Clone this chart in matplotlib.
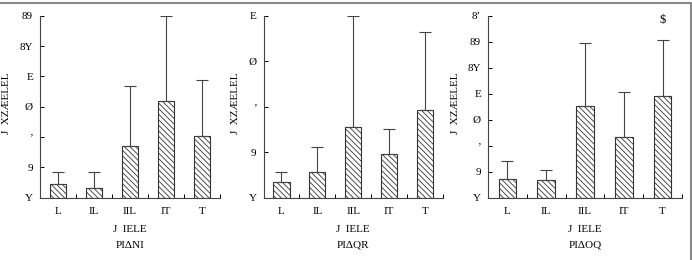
import numpy as np
import matplotlib.pyplot as plt
from matplotlib.lines import Line2D

plt.rcParams['font.family'] = ['Liberation Serif', 'DejaVu Serif']
plt.rcParams['hatch.linewidth'] = 0.6

# 数据
groups = ['L', 'IL', 'IIL', 'IT', 'T']
means_a = [0.88, 0.62, 3.43, 6.35, 4.05]
upper_a = [1.71, 1.71, 7.34, 12.0, 7.74]
means_b = [0.70, 1.11, 3.12, 1.92, 3.84]
upper_b = [1.14, 2.23, 8.0, 3.0, 7.3]
means_c = [1.44, 1.36, 7.03, 4.67, 7.82]
upper_c = [2.82, 2.10, 11.87, 8.10, 12.15]

yticks_a = [0, 2, 4, 6, 8, 10, 12]
ylabels_a = ['Y', '9', 'ʼ', 'Ø', 'E', '8Y', '89']
yticks_b = [0, 2, 4, 6, 8]
ylabels_b = ['Y', '9', 'ʼ', 'Ø', 'E']
yticks_c = [0, 2, 4, 6, 8, 10, 12, 14]
ylabels_c = ['Y', '9', 'ʼ', 'Ø', 'E', '8Y', '89', '8ʼ']

ylab = 'J  XZÆELEL'
xlab1 = 'J  IELE'
sub = ['PIΔNI', 'PIΔQR', 'PIΔOQ']

W, H = 692, 260
fig = plt.figure(figsize=(W / 100, H / 100), dpi=100)

# 每个子图: 均值, 上误差, 刻度, 刻度文字, y上限, 左右像素位置, y轴标题像素x
panels = [
    (means_a, upper_a, yticks_a, ylabels_a, 12, [40, 220], 11),
    (means_b, upper_b, yticks_b, ylabels_b, 8, [263.5, 443], 240),
    (means_c, upper_c, yticks_c, ylabels_c, 14, [488, 682], 460),
]
top, bot = 15.7, 197.7

x = np.arange(1, 6)
for i, (m, u, yt, yl, ymax, (x0, x1), lx) in enumerate(panels):
    ax = fig.add_axes([x0 / W, 1 - bot / H, (x1 - x0) / W, (bot - top) / H])
    err = np.array(u) - np.array(m)
    ax.bar(x, m, width=0.45, color='white', edgecolor='#333333',
           hatch='\\\\\\\\\\\\', linewidth=0.8)
    ax.errorbar(x, m, yerr=[np.zeros(5), err], fmt='none', ecolor='#444444',
                elinewidth=0.8, capsize=4, capthick=0.8)
    ax.set_xlim(0.5, 5.5)
    ax.set_ylim(0, ymax)
    ax.spines['top'].set_visible(False)
    ax.spines['right'].set_visible(False)
    for s in ['left', 'bottom']:
        ax.spines[s].set_color('#444444')
        ax.spines[s].set_linewidth(0.8)
    ax.set_yticks(yt)
    ax.set_yticklabels(yl, fontsize=8)
    ax.tick_params(axis='y', direction='in', length=3, width=0.7, pad=5)
    ax.set_xticks(np.arange(0.5, 6, 1), minor=True)
    ax.set_xticks(x)
    ax.set_xticklabels(groups, fontsize=8)
    ax.tick_params(axis='x', which='major', length=0, pad=7)
    ax.tick_params(axis='x', which='minor', direction='in', length=3, width=0.7)
    ax.set_xlabel(xlab1 + '\n' + sub[i], fontsize=8, linespacing=2.0, labelpad=6)
    ax.set_ylabel(ylab, fontsize=8)
    ax.yaxis.set_label_coords((lx - x0) / (x1 - x0), 0.52)
    if i == 2:
        ax.text(5, 13.7, '$', ha='center', va='center', fontsize=9)

fig.add_artist(Line2D([0, 1], [1 - 2.5 / H, 1 - 2.5 / H], color='#888888', lw=1.5))
fig.add_artist(Line2D([1 - 1.5 / W, 1 - 1.5 / W], [0, 1 - 2.5 / H], color='#888888', lw=1.5))

fig.savefig('out.png', dpi=100)
